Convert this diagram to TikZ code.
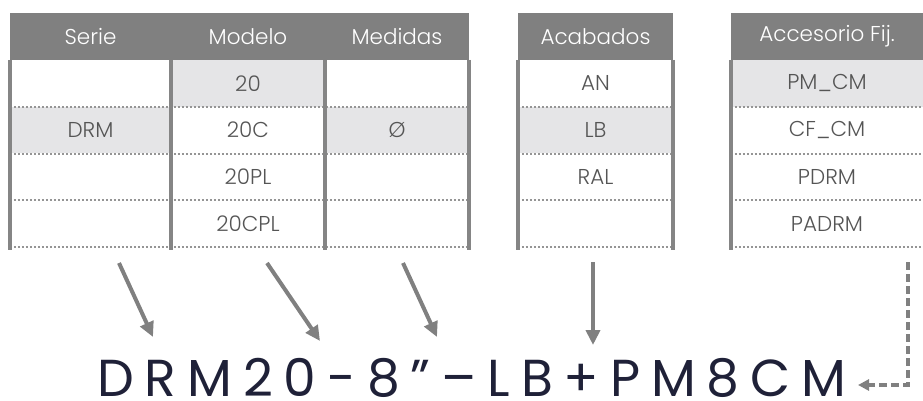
\documentclass[tikz,border=0pt]{standalone}
\usepackage{fontspec}
\setmainfont{Poppins}
\newfontfamily\cellfont{Poppins Light}
\usetikzlibrary{arrows.meta}

\definecolor{hdrgray}{HTML}{808080}
\definecolor{hlgray}{HTML}{E5E5E7}
\definecolor{cellgray}{HTML}{555555}
\definecolor{linegray}{HTML}{858585}
\definecolor{dotgray}{HTML}{959595}
\definecolor{codenavy}{HTML}{1F2138}

\tikzset{
  hdr/.style={fill=hdrgray,text=white,minimum height=47pt,inner sep=0pt,font=\cellfont\fontsize{21.5}{26}\selectfont},
  cell/.style={text=cellgray,minimum height=46.75pt,inner sep=0pt,font=\cellfont\fontsize{21.5}{26}\selectfont},
  hl/.style={cell,fill=hlgray},
  rowline/.style={dotgray,line width=2pt,dash pattern=on 2pt off 2pt},
  colline/.style={linegray,line width=3.5pt},
  pick/.style={hdrgray,line width=4pt,-{Triangle[length=15pt,width=14pt]}},
  pickdash/.style={hdrgray,line width=3.5pt,dash pattern=on 8pt off 4pt,-{Triangle[length=11pt,width=11pt]}},
  code/.style={text=codenavy,inner sep=0pt,text depth=0pt,font=\fontsize{52}{60}\selectfont\addfontfeatures{LetterSpace=21}}
}

\begin{document}
\begin{tikzpicture}[x=1pt,y=-1pt]
            \useasboundingbox (0,0) rectangle (923,401);

            \node[hdr,minimum width=161pt] (serie) at (90.5,36.5) {Serie};
            \node[hdr,minimum width=154pt] (modelo) at (248,36.5) {Modelo};
            \node[hdr,minimum width=144pt] (medidas) at (397,36.5) {Medidas};
            \node[hdr,minimum width=155pt] (acabados) at (595.5,36.5) {Acabados};
            \node[hdr,minimum width=192pt] (accesorio) at (827,36.5) {Accesorio Fij.};

            \node[cell,minimum width=161pt] (s1) at (90.5,83.4) {};
            \node[hl,minimum width=161pt] (s2) at (90.5,130.1) {DRM};
            \node[cell,minimum width=161pt] (s3) at (90.5,176.9) {};
            \node[cell,minimum width=161pt] (s4) at (90.5,223.6) {};

            \node[hl,minimum width=154pt] (m1) at (248,83.4) {20};
            \node[cell,minimum width=154pt] (m2) at (248,130.1) {20C};
            \node[cell,minimum width=154pt] (m3) at (248,176.9) {20PL};
            \node[cell,minimum width=154pt] (m4) at (248,223.6) {20CPL};

            \node[cell,minimum width=144pt] (d1) at (397,83.4) {};
            \node[hl,minimum width=144pt] (d2) at (397,130.1) {Ø};
            \node[cell,minimum width=144pt] (d3) at (397,176.9) {};
            \node[cell,minimum width=144pt] (d4) at (397,223.6) {};

            \node[cell,minimum width=155pt] (a1) at (595.5,83.4) {AN};
            \node[hl,minimum width=155pt] (a2) at (595.5,130.1) {LB};
            \node[cell,minimum width=155pt] (a3) at (595.5,176.9) {RAL};
            \node[cell,minimum width=155pt] (a4) at (595.5,223.6) {};

            \node[hl,minimum width=192pt] (f1) at (827,83.4) {PM\_CM};
            \node[cell,minimum width=192pt] (f2) at (827,130.1) {CF\_CM};
            \node[cell,minimum width=192pt] (f3) at (827,176.9) {PDRM};
            \node[cell,minimum width=192pt] (f4) at (827,223.6) {PADRM};

            \draw[rowline] (s1.south west) -- (d1.south east);
            \draw[rowline] (s2.south west) -- (d2.south east);
            \draw[rowline] (s3.south west) -- (d3.south east);
            \draw[rowline] (s4.south west) -- (d4.south east);
            \draw[rowline] (a1.south west) -- (a1.south east);
            \draw[rowline] (a2.south west) -- (a2.south east);
            \draw[rowline] (a3.south west) -- (a3.south east);
            \draw[rowline] (a4.south west) -- (a4.south east);
            \draw[rowline] (f1.south west) -- (f1.south east);
            \draw[rowline] (f2.south west) -- (f2.south east);
            \draw[rowline] (f3.south west) -- (f3.south east);
            \draw[rowline] (f4.south west) -- (f4.south east);

            \draw[colline] (s1.north west) -- ([yshift=-3pt]s4.south west);
            \draw[colline] (m1.north west) -- ([yshift=-3pt]m4.south west);
            \draw[colline] (d1.north west) -- ([yshift=-3pt]d4.south west);
            \draw[colline] (d1.north east) -- ([yshift=-3pt]d4.south east);
            \draw[colline] (a1.north west) -- ([yshift=-3pt]a4.south west);
            \draw[colline] (a1.north east) -- ([yshift=-3pt]a4.south east);
            \draw[colline] (f1.north west) -- ([yshift=-3pt]f4.south west);

            \node[code,anchor=base west] (ref) at (97,396) {DRM20-8”–LB+PM8CM};

            \coordinate (p1) at (119,263);
            \coordinate (q1) at (153,337);
            \coordinate (p2) at (267,263);
            \coordinate (q2) at (320,341);
            \coordinate (p3) at (403,263);
            \coordinate (q3) at (437,337);
            \coordinate (p4) at (593,262);
            \coordinate (q4) at (593,345);
            \coordinate (p5) at (908,262);
            \coordinate (q5) at (858,385);

            \draw[pick] (p1) -- (q1);
            \draw[pick] (p2) -- (q2);
            \draw[pick] (p3) -- (q3);
            \draw[pick] (p4) -- (q4);
            \draw[pickdash] (p5) |- (q5);
\end{tikzpicture}
\end{document}
